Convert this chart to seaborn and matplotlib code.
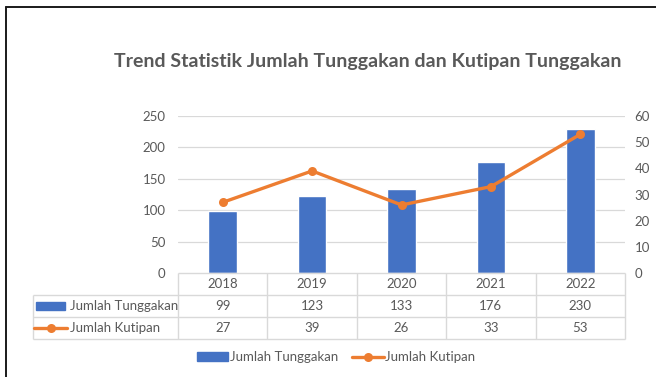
import matplotlib
matplotlib.use("Agg")
import matplotlib.pyplot as plt
from matplotlib.lines import Line2D
from matplotlib.patches import Rectangle
import seaborn as sns

# Data
years = ["2018", "2019", "2020", "2021", "2022"]
tunggakan = [99, 123, 133, 176, 230]
kutipan = [27, 39, 26, 33, 53]
left_ticks = [0, 50, 100, 150, 200, 250]
right_ticks = [0, 10, 20, 30, 40, 50, 60]
title = "Trend Statistik Jumlah Tunggakan dan Kutipan Tunggakan"
label_bar = "Jumlah Tunggakan"
label_line = "Jumlah Kutipan"

BLUE = "#4472C4"
ORANGE = "#ED7D31"
TEXT = "#595959"
GRID = "#D9D9D9"

sns.set_theme(style="white")
plt.rcParams["font.family"] = ["Lato", "DejaVu Sans"]

W, H = 656, 377
fig = plt.figure(figsize=(W / 100, H / 100), dpi=100)


def fx(px):
    return px / W


def fy(py):
    return 1 - py / H


# plot area in pixel terms
L, R, T, B = 178, 625, 116, 273
ax = fig.add_axes([fx(L), fy(B), fx(R) - fx(L), fy(T) - fy(B)])

sns.barplot(x=list(range(len(years))), y=tunggakan, ax=ax, color=BLUE,
            width=0.32, saturation=1, native_scale=True)
ax.set_xlim(-0.5, len(years) - 0.5)
ax.set_ylim(0, 250)
ax.set_yticks(left_ticks)
ax.set_xticks([])
ax.set_xlabel("")
ax.set_ylabel("")
for y in left_ticks[1:]:
    ax.axhline(y, color=GRID, lw=0.9, zorder=0)
for s in ax.spines.values():
    s.set_visible(False)
ax.tick_params(axis="y", length=0, pad=9, labelsize=9.5, labelcolor=TEXT)

ax2 = ax.twinx()
sns.lineplot(x=list(range(len(years))), y=kutipan, ax=ax2, color=ORANGE,
             lw=2.4, marker="o", markersize=6.5, markeredgewidth=0)
ax2.set_ylim(0, 60)
ax2.set_yticks(right_ticks)
ax2.set_xlim(-0.5, len(years) - 0.5)
for s in ax2.spines.values():
    s.set_visible(False)
ax2.tick_params(axis="y", length=0, pad=7, labelsize=9.5, labelcolor=TEXT)
ax2.grid(False)

# data table beneath the plot
TB = 339
tax = fig.add_axes([fx(L), fy(TB), fx(R) - fx(L), fy(B) - fy(TB)])
tax.set_xlim(-0.5, len(years) - 0.5)
tax.set_ylim(3, 0)
tax.axis("off")
col_w = (R - L) / len(years)
xl = -0.5 - (L - 33) / col_w
n = len(years)
lk = dict(color=GRID, lw=1.0, clip_on=False, solid_capstyle="butt")
tax.plot([-0.5, n - 0.5], [0, 0], **lk)
for yy in (1, 2, 3):
    tax.plot([xl, n - 0.5], [yy, yy], **lk)
for i in range(n + 1):
    tax.plot([i - 0.5, i - 0.5], [0, 3], **lk)
tax.plot([xl, xl], [1, 3], **lk)

fs = 9.5
for i, yr in enumerate(years):
    tax.text(i, 0.5, yr, ha="center", va="center", color=TEXT, fontsize=fs)
    tax.text(i, 1.5, str(tunggakan[i]), ha="center", va="center", color=TEXT, fontsize=fs)
    tax.text(i, 2.5, str(kutipan[i]), ha="center", va="center", color=TEXT, fontsize=fs)

# row headers with legend keys
kx0 = xl + 3 / col_w
kx1 = xl + 32 / col_w
tax.add_patch(Rectangle((kx0, 1.5 - 0.18), kx1 - kx0, 0.36, color=BLUE, clip_on=False))
tax.plot([kx0 - 2 / col_w, kx1 + 2 / col_w], [2.5, 2.5], color=ORANGE, lw=2.4, clip_on=False)
tax.plot([(kx0 + kx1) / 2], [2.5], "o", color=ORANGE, ms=6.5, mew=0, clip_on=False)
tax.text(xl + 37 / col_w, 1.5, label_bar, ha="left", va="center", color=TEXT, fontsize=fs)
tax.text(xl + 37 / col_w, 2.5, label_line, ha="left", va="center", color=TEXT, fontsize=fs)

# bottom legend
handles = [Rectangle((0, 0), 1, 1, color=BLUE),
           Line2D([0], [0], color=ORANGE, lw=2.4, marker="o", ms=6.5, mew=0)]
fig.legend(handles, [label_bar, label_line], loc="center", ncol=2,
           bbox_to_anchor=(fx(336), fy(357)), frameon=False, fontsize=fs,
           labelcolor=TEXT, handlelength=2.4, handleheight=0.6,
           handletextpad=0.1, columnspacing=1.1)

fig.text(fx(368), fy(62), title, ha="center", va="center", fontsize=14,
         fontweight="bold", color=TEXT)

# frame edges along the left and top
fig.add_artist(Line2D([fx(5.5), fx(5.5)], [0, fy(6.5)], color="#1a1a1a", lw=1.4))
fig.add_artist(Line2D([fx(5.5), 1], [fy(6.5), fy(6.5)], color="#1a1a1a", lw=1.4))

fig.savefig("out.png", dpi=100)
